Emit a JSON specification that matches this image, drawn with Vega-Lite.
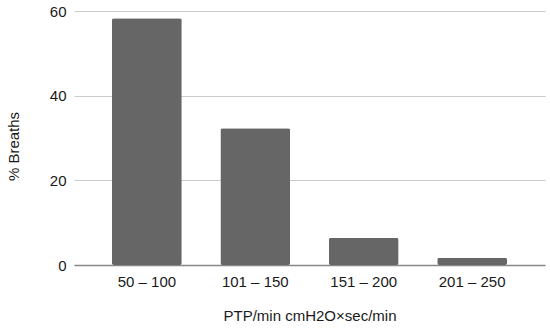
{
  "$schema": "https://vega.github.io/schema/vega-lite/v6.json",
  "width": 471,
  "height": 254,
  "autosize": {"type": "none"},
  "padding": {"left": 74, "top": 11, "right": 5, "bottom": 64},
  "background": "white",
  "config": {
    "view": {"stroke": null},
    "font": "Liberation Sans"
  },
  "data": {
    "values": [
      {"range": "50 – 100", "pct": 58.3},
      {"range": "101 – 150", "pct": 32.3},
      {"range": "151 – 200", "pct": 6.4},
      {"range": "201 – 250", "pct": 1.7}
    ]
  },
  "mark": {"type": "bar", "color": "#666666", "cornerRadius": 2},
  "encoding": {
    "x": {
      "field": "range",
      "type": "nominal",
      "sort": null,
      "scale": {"paddingInner": 0.356, "paddingOuter": 0.35},
      "axis": {
        "title": "PTP/min cmH2O×sec/min",
        "titleFont": "Liberation Sans",
        "titleFontSize": 15,
        "titleFontWeight": "normal",
        "titleColor": "#1a1a1a",
        "titlePadding": 19,
        "labelFont": "Liberation Sans",
        "labelFontSize": 15,
        "labelColor": "#1a1a1a",
        "labelAngle": 0,
        "labelPadding": 9,
        "ticks": false,
        "domainColor": "#888888",
        "domainWidth": 1.5
      }
    },
    "y": {
      "field": "pct",
      "type": "quantitative",
      "scale": {"domain": [0, 60], "nice": false},
      "axis": {
        "title": "% Breaths",
        "titleFont": "Liberation Sans",
        "titleFontSize": 15,
        "titleFontWeight": "normal",
        "titleColor": "#1a1a1a",
        "titlePadding": 28,
        "titleY": 135,
        "labelFont": "Liberation Sans",
        "labelFontSize": 15,
        "labelColor": "#1a1a1a",
        "labelPadding": 8,
        "values": [0, 20, 40, 60],
        "ticks": false,
        "domain": false,
        "gridColor": "#cccccc",
        "gridWidth": 1
      }
    }
  }
}
